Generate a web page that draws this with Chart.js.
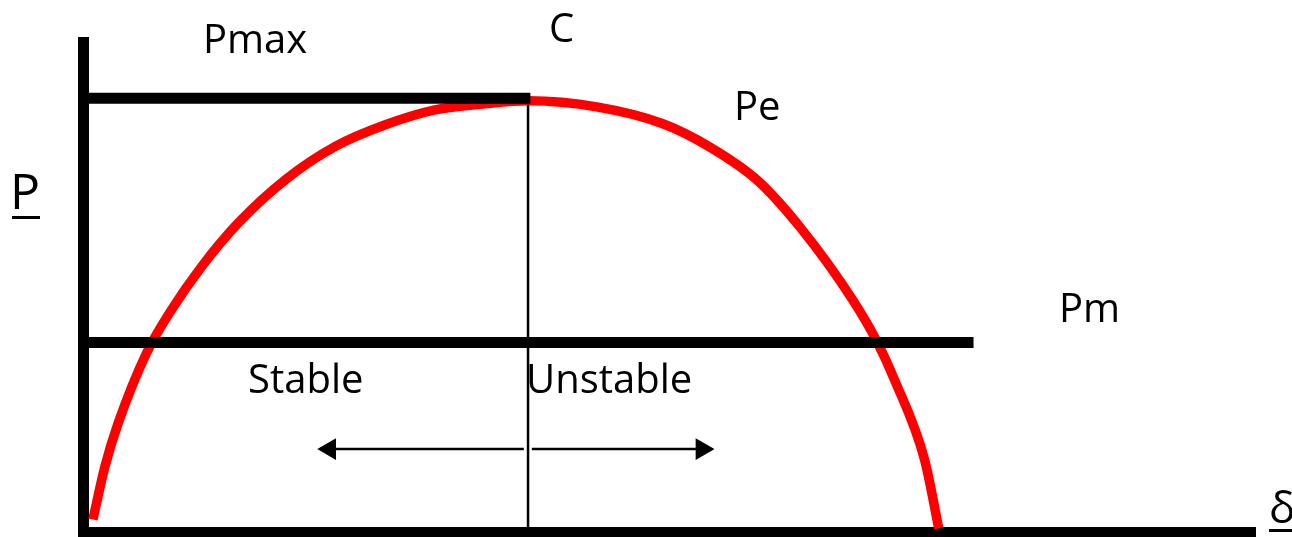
<!DOCTYPE html>
<html>
<head>
<meta charset="utf-8">
<script src="https://cdn.jsdelivr.net/npm/chart.js@4/dist/chart.umd.min.js"></script>
<style>
  html, body { margin: 0; padding: 0; background: #fff; }
  canvas { display: block; }
</style>
</head>
<body>
<canvas id="c" width="1292" height="537"></canvas>
<script>
// power angle curve (delta in deg, P per unit of Pmax)
const curveDelta = [0, 2.55, 5.38, 11.4, 16.7, 23.1, 30.9, 40.9, 51.5, 62.1, 72.8, 83.4, 92.6,
                    107.2, 121.3, 131.3, 141.3, 150.6, 161.7, 166.8, 170.6, 177.0, 180]
const curvePe = [0.03, 0.152, 0.253, 0.415, 0.515, 0.615, 0.716, 0.816, 0.893, 0.943, 0.978, 0.992, 0.999,
                 0.985, 0.946, 0.892, 0.816, 0.705, 0.538, 0.443, 0.353, 0.168, 0.01]

// horizontal levels and their extents
const pmaxLevel = 1.005
const pmaxSpan = [-2, 93.1]
const pmLevel = 0.44
const pmSpan = [-2, 187.4]

// critical angle C (vertical marker)
const deltaC = 92.6
const markerSpan = [0, 0.99]

// stable / unstable arrows: [start, end] in delta, at one P level
const arrowLevel = 0.193
const arrowLeft = [91.7, 50.4]
const arrowRight = [93.4, 129.6]

const xRange = [-2, 247.3]
const yRange = [0, 1.134]

const FONT = '"Open Sans", "DejaVu Sans", sans-serif'

// text on the picture: [text, x px, baseline px, size]
const labels = [
  ['Pmax', 203, 53, 40],
  ['C', 549, 42, 40],
  ['Pe', 734, 120, 40],
  ['Pm', 1059, 322, 40],
  ['Stable', 248, 393, 40],
  ['Unstable', 526, 393, 40],
  ['P', 10, 209, 50],
  ['δ', 1269, 523, 44]
]
// underlines under the axis letters: [x0, x1, y]
const underlines = [[12, 40, 217.5], [1269, 1292, 530.5]]

const pts = (xs, ys) => xs.map((x, i) => ({ x, y: ys[i] }))
const hline = (span, lvl) => span.map(x => ({ x, y: lvl }))

const textPlugin = {
  id: 'texts',
  afterDraw(chart) {
    const ctx = chart.ctx
    ctx.save()
    ctx.fillStyle = '#000'
    ctx.textBaseline = 'alphabetic'
    ctx.textAlign = 'left'
    labels.forEach(([t, x, y, s]) => {
      ctx.font = s + 'px ' + FONT
      ctx.fillText(t, x, y)
    })
    ctx.strokeStyle = '#000'
    ctx.lineWidth = 3
    underlines.forEach(([x0, x1, y]) => {
      ctx.beginPath(); ctx.moveTo(x0, y); ctx.lineTo(x1, y); ctx.stroke()
    })
    ctx.restore()
  }
}

const black = '#000'
const lineBase = { showLine: true, pointRadius: 0, fill: false, clip: false, borderCapStyle: 'butt' }
const hiddenGrid = { display: false, drawTicks: false, tickLength: 0 }

new Chart(document.getElementById('c'), {
  type: 'scatter',
  data: {
    datasets: [
      { ...lineBase, label: 'Pmax', data: hline(pmaxSpan, pmaxLevel), borderColor: black, borderWidth: 11 },
      { ...lineBase, label: 'Pm', data: hline(pmSpan, pmLevel), borderColor: black, borderWidth: 11 },
      { ...lineBase, label: 'C', data: markerSpan.map(y => ({ x: deltaC, y })), borderColor: black, borderWidth: 2.5 },
      { ...lineBase, label: 'stable', data: hline(arrowLeft, arrowLevel), borderColor: black, borderWidth: 2.5,
        pointRadius: [0, 10], pointStyle: 'triangle', pointRotation: 270, backgroundColor: black, pointBorderColor: black },
      { ...lineBase, label: 'unstable', data: hline(arrowRight, arrowLevel), borderColor: black, borderWidth: 2.5,
        pointRadius: [0, 10], pointStyle: 'triangle', pointRotation: 90, backgroundColor: black, pointBorderColor: black },
      { ...lineBase, label: 'Pe', data: pts(curveDelta, curvePe), borderColor: '#ff0000', borderWidth: 9.5,
        cubicInterpolationMode: 'monotone' }
    ]
  },
  options: {
    responsive: false,
    animation: false,
    layout: { autoPadding: false, padding: { left: 83.5, right: 37, top: 42.5, bottom: 4.5 } },
    plugins: { legend: { display: false }, tooltip: { enabled: false } },
    scales: {
      x: {
        type: 'linear', min: xRange[0], max: xRange[1], z: 1,
        grid: hiddenGrid,
        ticks: { display: false },
        border: { display: true, color: black, width: 11 }
      },
      y: {
        type: 'linear', min: yRange[0], max: yRange[1], z: 1,
        grid: hiddenGrid,
        ticks: { display: false },
        border: { display: true, color: black, width: 11 }
      }
    }
  },
  plugins: [textPlugin]
})
</script>
</body>
</html>
